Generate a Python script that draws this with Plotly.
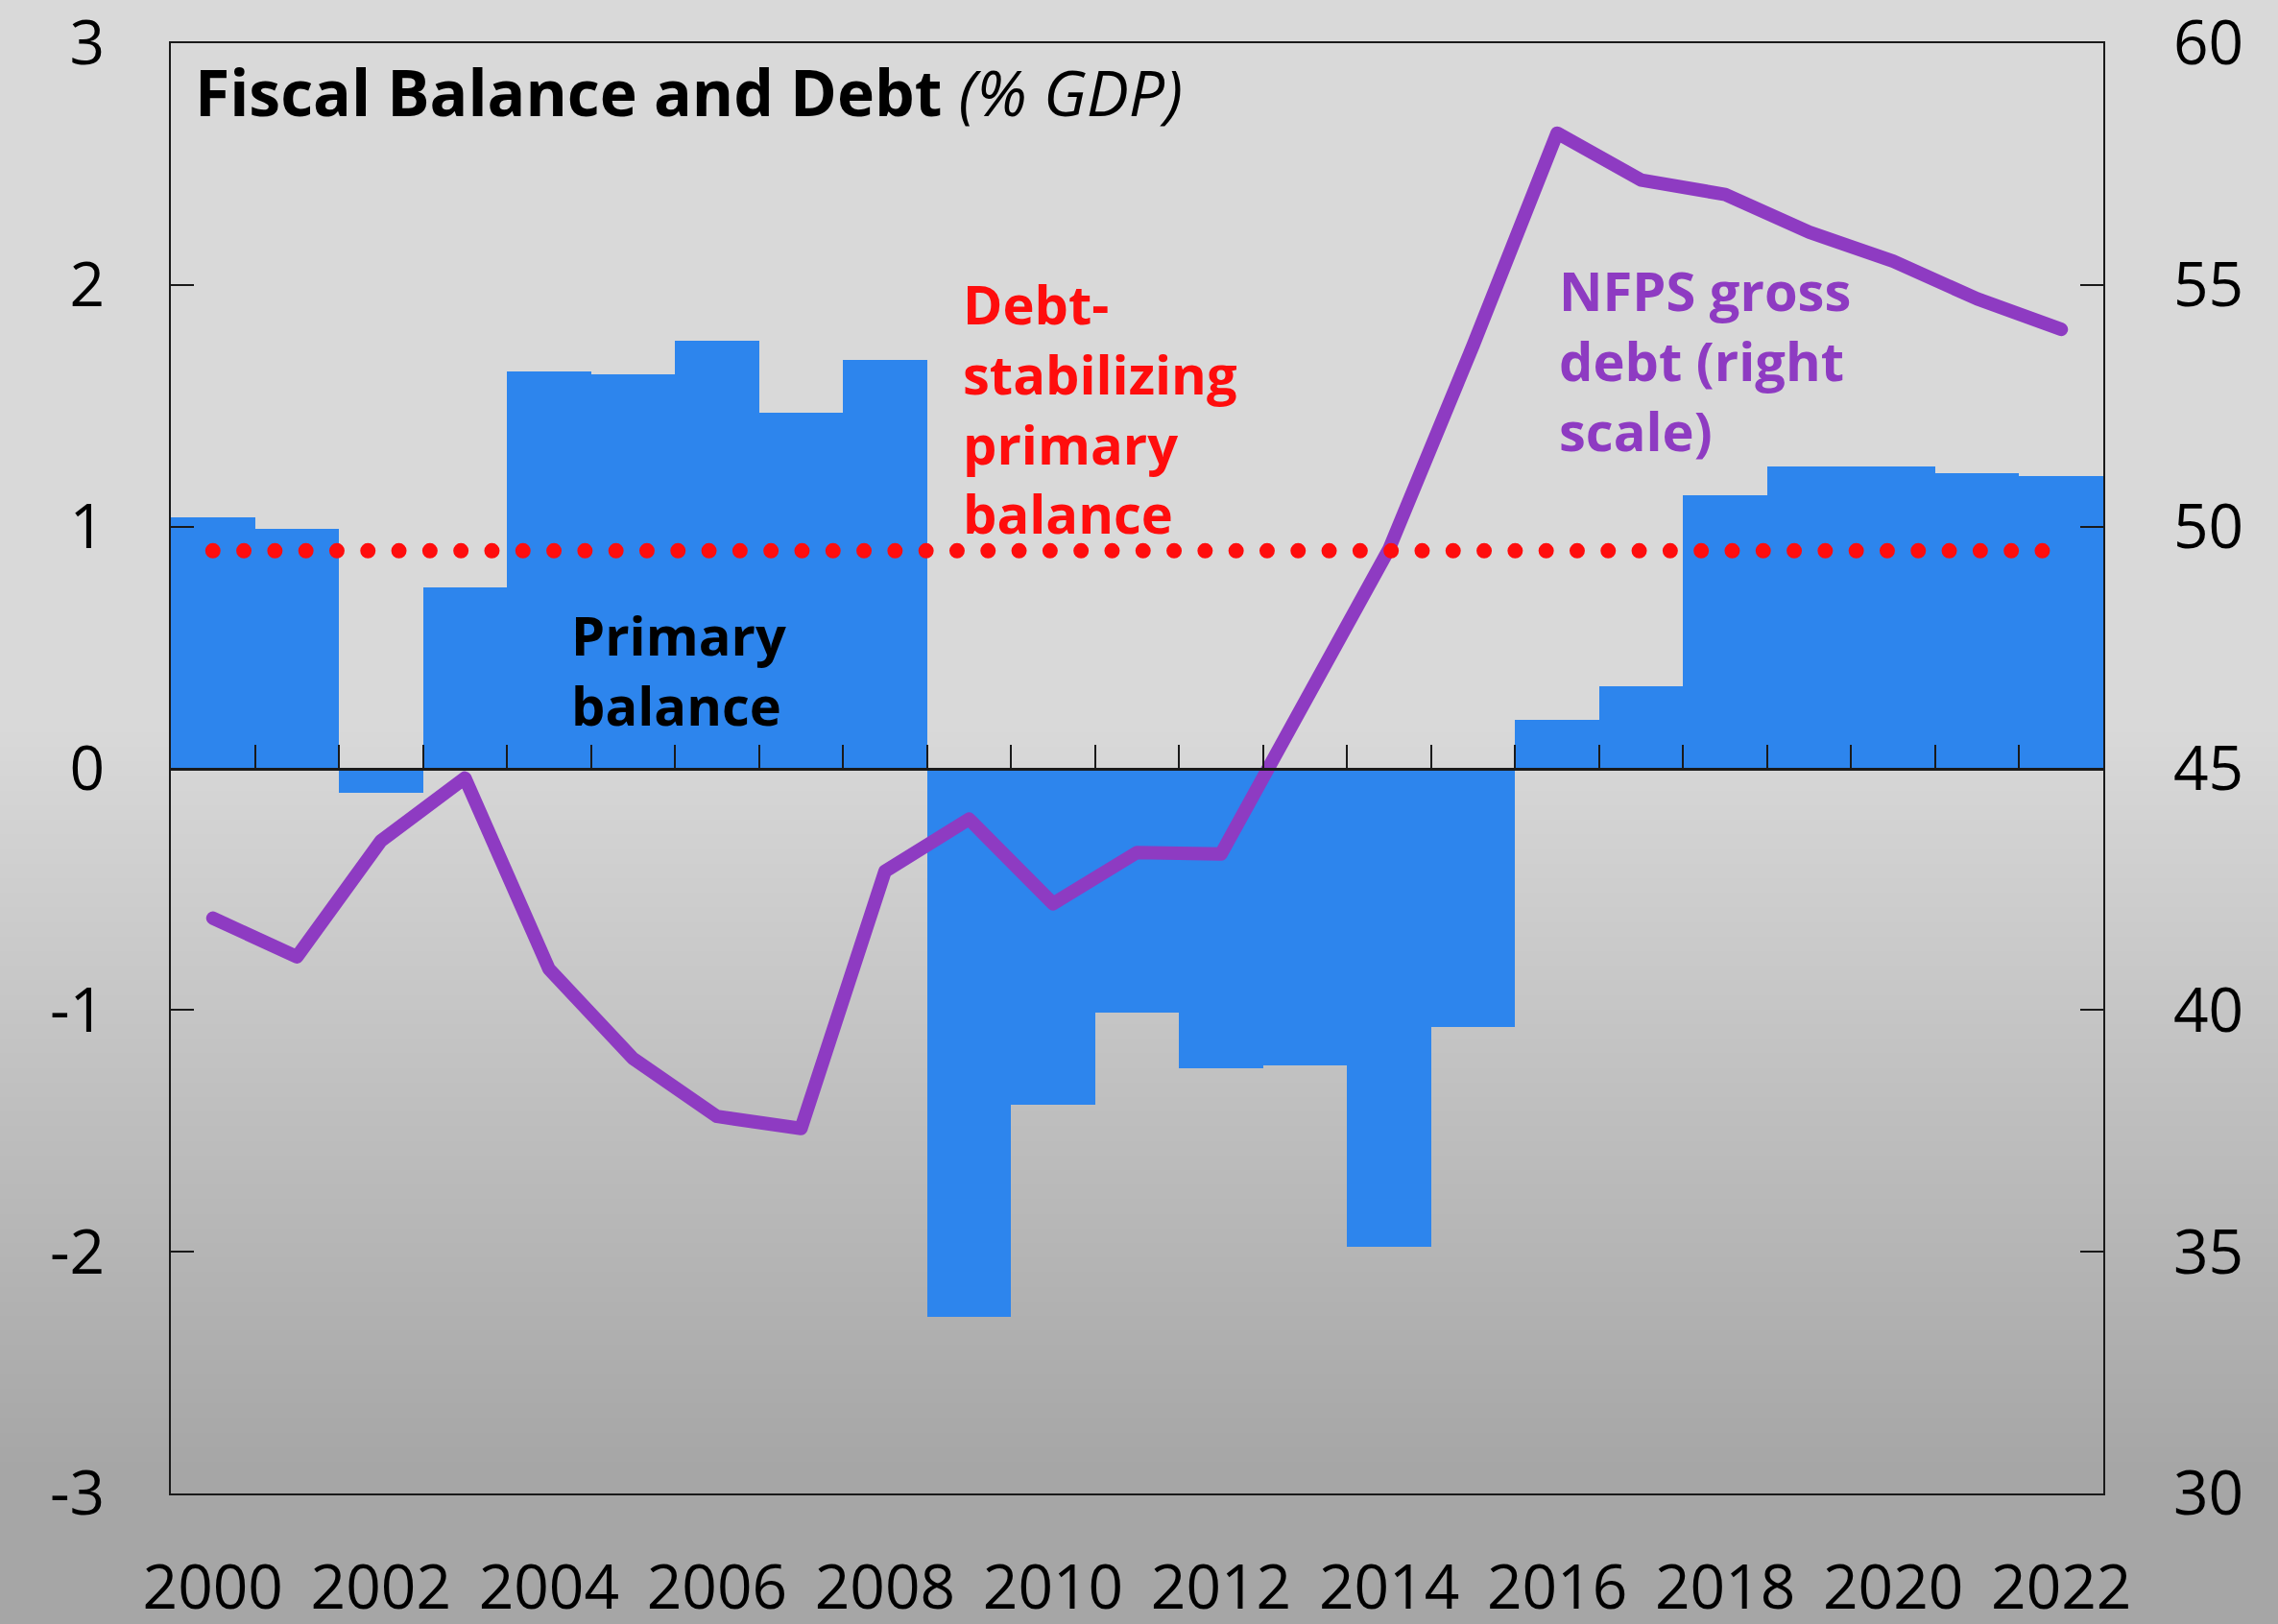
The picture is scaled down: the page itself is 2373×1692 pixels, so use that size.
import base64
import struct
import zlib

import plotly.graph_objects as go

# ---------------- data ----------------
years = list(range(2000, 2023))
primary_balance = [1.04, 0.99, -0.10, 0.75, 1.64, 1.63, 1.77, 1.47, 1.69,
                   -2.27, -1.39, -1.01, -1.24, -1.23, -1.98, -1.07,
                   0.20, 0.34, 1.13, 1.25, 1.25, 1.22, 1.21]
gross_debt = [41.9, 41.1, 43.5, 44.8, 40.85, 39.0, 37.8, 37.55, 42.87,
              43.95, 42.2, 43.26, 43.23, 46.4, 49.54, 53.75,
              58.14, 57.17, 56.87, 56.09, 55.49, 54.71, 54.08]
debt_stabilizing = [0.90] * len(years)
x_tick_years = list(range(2000, 2023, 2))
bar_edges = [y + 0.5 for y in years[:-1]]
left_ticks = [-3, -2, -1, 0, 1, 2, 3]
right_ticks = [30, 35, 40, 45, 50, 55, 60]

# ---------------- styles ----------------
W, H = 2373, 1692
ML, MR, MT, MB = 178, 182, 45, 136
PW, PH = W - ML - MR, H - MT - MB
BLUE = "#2D85ED"
PURPLE = "#8E3BC2"
RED = "#FF0D0D"
AXC = "#1a1a1a"
FONT = "Open Sans"


# vertical gray gradient background image (styling only)
def _chunk(t, d):
    return struct.pack(">I", len(d)) + t + d + struct.pack(">I", zlib.crc32(t + d) & 0xFFFFFFFF)


rows = []
g0, g1, top_stop, bot_stop = 217, 166, 755, 1530
for i in range(H):
    if i < top_stop:
        v = g0
    elif i > bot_stop:
        v = g1
    else:
        v = round(g0 - (g0 - g1) * (i - top_stop) / (bot_stop - top_stop))
    rows.append(b"\x00" + bytes([v]))
png = (b"\x89PNG\r\n\x1a\n"
       + _chunk(b"IHDR", struct.pack(">IIBBBBB", 1, H, 8, 0, 0, 0, 0))
       + _chunk(b"IDAT", zlib.compress(b"".join(rows)))
       + _chunk(b"IEND", b""))
bg_src = "data:image/png;base64," + base64.b64encode(png).decode()

fig = go.Figure()

fig.add_trace(go.Bar(x=years, y=primary_balance, width=1.0,
                     marker=dict(color=BLUE, line=dict(width=0)),
                     xaxis="x", yaxis="y", hoverinfo="skip"))

fig.add_trace(go.Scatter(x=years, y=debt_stabilizing, mode="lines",
                         line=dict(color=RED, width=16, dash="dot"),
                         xaxis="x2", yaxis="y", hoverinfo="skip"))

fig.add_trace(go.Scatter(x=years, y=gross_debt, mode="lines",
                         line=dict(color=PURPLE, width=14),
                         xaxis="x", yaxis="y2", hoverinfo="skip"))

tickfont = dict(family=FONT, size=64, color="black")

fig.update_layout(
    width=W, height=H,
    margin=dict(l=ML, r=MR, t=MT, b=MB, pad=0, autoexpand=False),
    paper_bgcolor="#d9d9d9",
    plot_bgcolor="rgba(0,0,0,0)",
    showlegend=False,
    bargap=0,
    font=dict(family=FONT, color="black"),
    images=[dict(source=bg_src, xref="paper", yref="paper",
                 x=-ML / PW, y=1 + MT / PH, sizex=W / PW, sizey=H / PH,
                 xanchor="left", yanchor="top", sizing="stretch", layer="below")],
    xaxis=dict(range=[1999.5, 2022.5], tickmode="array", tickvals=x_tick_years,
               ticktext=[str(v) for v in x_tick_years], ticks="",
               showline=True, mirror=True, linecolor=AXC, linewidth=2,
               showgrid=False, zeroline=False, tickfont=tickfont,
               ticklabelstandoff=41, automargin=False,
               ticklabeloverflow="allow"),
    xaxis2=dict(overlaying="x", anchor="free", position=0.5,
                range=[1999.5, 2022.5], tickmode="array", tickvals=bar_edges,
                ticks="inside", ticklen=24, tickwidth=2, tickcolor=AXC,
                showticklabels=False, showgrid=False, zeroline=False,
                showline=True, linecolor=AXC, linewidth=3, layer="above traces",
                automargin=False),
    yaxis=dict(range=[-3, 3], tickmode="array", tickvals=left_ticks,
               ticktext=[str(v) for v in left_ticks],
               ticks="inside", ticklen=24, tickwidth=2, tickcolor=AXC,
               showline=True, mirror=True, linecolor=AXC, linewidth=2,
               showgrid=False, zeroline=False, tickfont=tickfont,
               ticklabelstandoff=54, layer="above traces", automargin=False,
               ticklabeloverflow="allow"),
    yaxis2=dict(overlaying="y", side="right", range=[30, 60], tickmode="array",
                tickvals=right_ticks, ticktext=[str(v) for v in right_ticks],
                ticks="inside", ticklen=24, tickwidth=2, tickcolor=AXC,
                showline=False, showgrid=False, zeroline=False,
                tickfont=tickfont, ticklabelstandoff=72, layer="above traces",
                automargin=False, ticklabeloverflow="allow"),
)

ann_font = dict(family=FONT, size=56)
fig.add_annotation(x=1999.76, y=2.80, xref="x", yref="y", xanchor="left",
                   yanchor="middle", showarrow=False, align="left",
                   text="<b>Fiscal Balance and Debt</b> <i>(% GDP)</i>",
                   font=dict(family=FONT, size=66, color="black"))
fig.add_annotation(x=2004.24, y=0.41, xref="x", yref="y", xanchor="left",
                   yanchor="middle", showarrow=False, align="left",
                   text="<b>Primary<br>balance</b>",
                   font=dict(ann_font, color="black"))
fig.add_annotation(x=2008.90, y=1.49, xref="x", yref="y", xanchor="left",
                   yanchor="middle", showarrow=False, align="left",
                   text="<b>Debt-<br>stabilizing<br>primary<br>balance</b>",
                   font=dict(ann_font, color=RED))
fig.add_annotation(x=2016.0, y=1.69, xref="x", yref="y", xanchor="left",
                   yanchor="middle", showarrow=False, align="left",
                   text="<b>NFPS gross<br>debt (right<br>scale)</b>",
                   font=dict(ann_font, color=PURPLE))

post = """
var gd = document.getElementById('{plot_id}');
function fixLines(){
  gd.querySelectorAll('.scatterlayer path.js-line').forEach(function(p){
    p.style.strokeLinecap = 'round';
    p.style.strokeLinejoin = 'round';
    var d = p.style.strokeDasharray;
    if (d && d !== 'none' && d !== '') { p.style.strokeDasharray = '0px,32.3px'; }
  });
}
fixLines();
gd.on('plotly_afterplot', fixLines);
"""

fig.write_html("out.html", post_script=post)
